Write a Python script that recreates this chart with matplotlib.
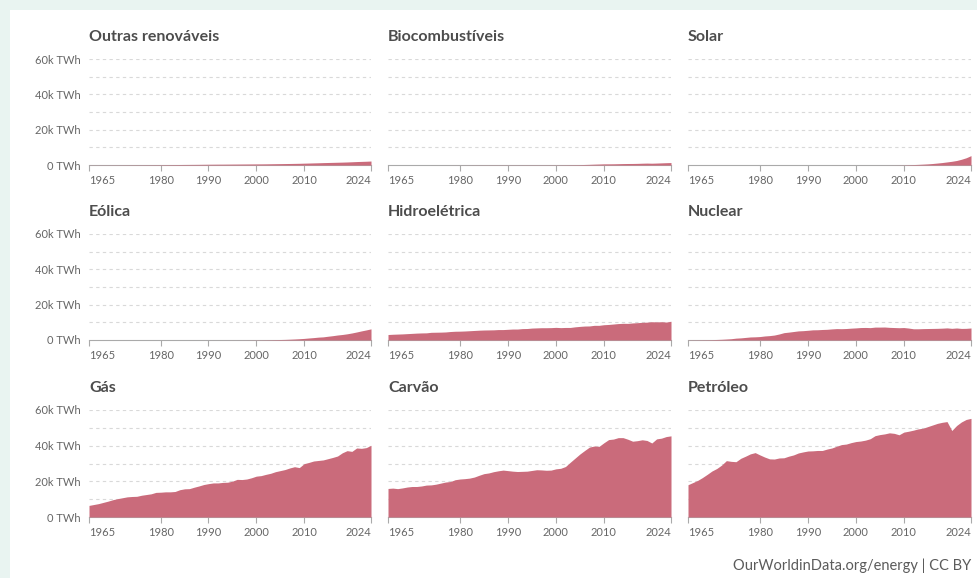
import matplotlib.pyplot as plt
from matplotlib.patches import Rectangle

plt.rcParams['font.family'] = ['Lato', 'DejaVu Sans']

years = list(range(1965, 2025))

titles = ["Outras renováveis", "Biocombustíveis", "Solar",
          "Eólica", "Hidroelétrica", "Nuclear",
          "Gás", "Carvão", "Petróleo"]

# primary energy consumption, TWh
other_renew = [60, 65, 70, 75, 80, 90, 95, 105, 115, 125,
               135, 140, 150, 160, 175, 190, 210, 230, 250, 280,
               310, 330, 350, 370, 400, 430, 450, 470, 480, 500,
               520, 540, 560, 580, 600, 620, 630, 660, 700, 740,
               780, 820, 860, 910, 960, 1040, 1110, 1190, 1260, 1350,
               1420, 1490, 1560, 1630, 1720, 1830, 1950, 2040, 2130, 2250]
biofuels = [0, 0, 0, 0, 0, 0, 0, 0, 0, 0,
            5, 8, 10, 15, 20, 25, 30, 40, 50, 60,
            70, 70, 75, 75, 80, 80, 80, 80, 85, 90,
            90, 95, 95, 95, 100, 105, 115, 135, 170, 190,
            220, 300, 380, 480, 560, 650, 660, 680, 740, 810,
            850, 870, 920, 1010, 1080, 1010, 1100, 1200, 1300, 1380]
solar = [0, 0, 0, 0, 0, 0, 0, 0, 0, 0,
         0, 0, 0, 0, 0, 0, 0, 0, 0, 0,
         0, 0, 0, 0, 0, 1, 1, 1, 1, 1,
         1, 2, 2, 2, 3, 3, 4, 5, 6, 7,
         12, 15, 20, 33, 55, 90, 170, 250, 360, 490,
         640, 850, 1110, 1390, 1740, 2100, 2550, 3250, 4100, 5300]
wind = [0, 0, 0, 0, 0, 0, 0, 0, 0, 0,
        0, 0, 0, 0, 0, 0, 0, 0, 0, 0,
        1, 1, 2, 3, 6, 10, 12, 14, 16, 19,
        22, 27, 33, 45, 60, 85, 105, 140, 170, 230,
        280, 350, 450, 570, 720, 900, 1140, 1360, 1620, 1780,
        2130, 2450, 2830, 3120, 3500, 3980, 4540, 5150, 5700, 6300]
hydro = [3100, 3250, 3350, 3450, 3600, 3750, 3900, 4000, 4050, 4350,
         4400, 4450, 4550, 4800, 4950, 5000, 5100, 5250, 5400, 5550,
         5650, 5700, 5750, 5900, 5900, 6050, 6200, 6200, 6450, 6500,
         6750, 6850, 6950, 6950, 7000, 7150, 7000, 7100, 7100, 7450,
         7700, 7900, 7950, 8300, 8300, 8650, 8800, 9050, 9300, 9450,
         9400, 9650, 9800, 10000, 10100, 10350, 10250, 10350, 10150, 10600]
nuclear = [70, 100, 120, 150, 180, 220, 310, 410, 560, 730,
           1050, 1200, 1460, 1720, 1800, 1950, 2280, 2480, 2800, 3400,
           4150, 4450, 4800, 5150, 5280, 5500, 5750, 5800, 5950, 6050,
           6280, 6450, 6400, 6500, 6700, 6850, 7050, 7100, 7000, 7300,
           7300, 7350, 7150, 7050, 6950, 7050, 6750, 6350, 6350, 6450,
           6500, 6550, 6600, 6700, 6850, 6600, 6800, 6550, 6600, 6800]
gas = [6500, 7000, 7500, 8200, 8900, 9700, 10300, 10800, 11300, 11500,
       11600, 12200, 12600, 13000, 13800, 13900, 14100, 14100, 14300, 15300,
       15800, 15900, 16700, 17400, 18200, 18700, 19100, 19100, 19400, 19500,
       20100, 21100, 21000, 21300, 22000, 22900, 23200, 23900, 24500, 25400,
       26000, 26600, 27500, 28200, 27700, 29900, 30600, 31400, 31700, 32000,
       32700, 33400, 34200, 36000, 37200, 36800, 38700, 38500, 38900, 40200]
coal = [16000, 16200, 15900, 16300, 16800, 17100, 17100, 17400, 17900, 18000,
        18400, 19000, 19600, 19900, 20900, 21300, 21500, 21800, 22400, 23400,
        24300, 24700, 25400, 25900, 26300, 26000, 25700, 25500, 25600, 25700,
        26100, 26500, 26400, 26200, 26300, 27000, 27300, 28300, 30700, 33000,
        35300, 37300, 39200, 39800, 39600, 41600, 43400, 43700, 44500, 44500,
        43600, 42500, 42800, 43300, 42900, 41500, 43800, 44200, 45100, 45500]
oil = [18100, 19300, 20500, 22100, 23900, 25800, 27200, 29100, 31600, 31200,
       31000, 32900, 34100, 35400, 36100, 34800, 33600, 32600, 32500, 33100,
       33200, 34100, 34800, 35900, 36500, 37000, 37100, 37300, 37300, 38100,
       38700, 39700, 40600, 40900, 41700, 42300, 42600, 43100, 43900, 45600,
       46200, 46600, 47200, 46900, 46100, 47600, 48100, 48700, 49400, 49800,
       50700, 51600, 52500, 53100, 53500, 48500, 51300, 53300, 54700, 55300]

series = [other_renew, biofuels, solar, wind, hydro, nuclear, gas, coal, oil]

xticks = [1965, 1980, 1990, 2000, 2010, 2024]
yticks = [0, 20000, 40000, 60000]
ylabels = ["0 TWh", "20k TWh", "40k TWh", "60k TWh"]

W, H = 977, 578
fig = plt.figure(figsize=(W / 100, H / 100), dpi=100)
fig.patch.set_facecolor('#e9f4f1')
fig.patches.append(Rectangle((10 / W, 0), 1, 1 - 10 / H, transform=fig.transFigure,
                             facecolor='white', edgecolor='none', zorder=-5))

col_left = [89, 388, 688]
col_w = [282, 283, 283]
row_top = [59, 234, 410]
row_bot = [165, 340, 517]

for i in range(9):
    r, c = i // 3, i % 3
    ax = fig.add_axes([col_left[c] / W, 1 - row_bot[r] / H,
                       col_w[c] / W, (row_bot[r] - row_top[r]) / H])
    ax.set_facecolor('none')
    ax.fill_between(years, series[i], 0, color='#ca6b7b', linewidth=0, zorder=3)
    for g in range(10000, 70000, 10000):
        ax.axhline(g, color='#d9d9d9', linewidth=0.8, linestyle=(0, (3, 3)), zorder=1)
    ax.set_xlim(1965, 2024)
    ax.set_ylim(0, 60000)
    for s in ['top', 'right', 'left']:
        ax.spines[s].set_visible(False)
    ax.spines['bottom'].set_color('#aaaaaa')
    ax.spines['bottom'].set_linewidth(0.8)
    ax.set_xticks(xticks)
    ax.set_xticklabels([str(x) for x in xticks])
    ax.tick_params(axis='x', length=4, width=0.8, color='#aaaaaa',
                   labelsize=8, labelcolor='#666666', pad=3)
    labs = ax.get_xticklabels()
    labs[0].set_ha('left')
    labs[-1].set_ha('right')
    ax.set_yticks(yticks)
    if c == 0:
        ax.set_yticklabels(ylabels)
    else:
        ax.set_yticklabels([])
    ax.tick_params(axis='y', length=0, labelsize=8, labelcolor='#666666', pad=6)
    fig.text(col_left[c] / W, 1 - (row_top[r] - 18) / H, titles[i],
             fontsize=11.5, fontweight='bold', color='#4d4d4d', va='baseline')

fig.text(971 / W, 1 - 566 / H, "OurWorldinData.org/energy | CC BY",
         fontsize=10.5, color='#5b5b5b', ha='right', va='center')

fig.savefig('out.png', dpi=100, facecolor=fig.get_facecolor())
